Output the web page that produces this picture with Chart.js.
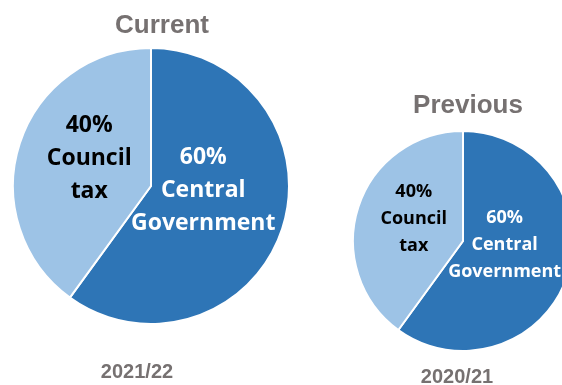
<!DOCTYPE html>
<html>
<head>
<meta charset="utf-8">
<script src="https://cdn.jsdelivr.net/npm/chart.js"></script>
<style>
    html, body { margin: 0; padding: 0; background: #fff; overflow: hidden; }
    body { width: 562px; height: 385px; position: relative; }
    canvas { position: absolute; top: 0; }
    #currentChart { left: 0; }
    #previousChart { left: 340px; }
</style>
</head>
<body>
<canvas id="currentChart" width="302" height="385"></canvas>
<canvas id="previousChart" width="246" height="385"></canvas>
<script>
    const categories = ['Central Government', 'Council tax'];
    const currentShares = [60, 40];
    const previousShares = [60, 40];
    const panelTitles = ['Current', 'Previous'];
    const periods = ['2021/22', '2020/21'];

    const sliceColours = ['#2E75B6', '#9DC3E6'];
    const labelColours = ['#ffffff', '#000000'];
    // where the label sits inside each slice: share of radius, turn from mid angle (deg)
    const labelPlacement = [{ frac: 0.38, turn: -13 }, { frac: 0.49, turn: 6 }];

    const panelText = {
        id: 'panelText',
        afterDatasetsDraw(chart, args, opts) {
            const ctx = chart.ctx;
            const meta = chart.getDatasetMeta(0);
            const values = chart.data.datasets[0].data;

            // slice labels
            ctx.save();
            ctx.textAlign = 'center';
            ctx.textBaseline = 'middle';
            ctx.font = 'bold ' + opts.labelSize + 'px "Open Sans"';
            meta.data.forEach(function(arc, i) {
                const p = labelPlacement[i];
                const mid = (arc.startAngle + arc.endAngle) / 2 + p.turn * Math.PI / 180;
                const x = arc.x + Math.cos(mid) * arc.outerRadius * p.frac;
                const y = arc.y + Math.sin(mid) * arc.outerRadius * p.frac;
                const lines = [values[i] + '%'].concat(chart.data.labels[i].split(' '));
                const top = y - (lines.length - 1) * opts.lineGap / 2;
                ctx.fillStyle = labelColours[i];
                lines.forEach(function(line, j) {
                    ctx.fillText(line, x, top + j * opts.lineGap);
                });
            });
            ctx.restore();

            // heading and period
            const cx = (chart.chartArea.left + chart.chartArea.right) / 2;
            ctx.save();
            ctx.textAlign = 'center';
            ctx.textBaseline = 'middle';
            ctx.fillStyle = '#767171';
            ctx.font = 'bold 26px "Liberation Sans", Arial, sans-serif';
            ctx.fillText(opts.title, cx + opts.titleDx, opts.titleY);
            ctx.font = 'bold 20px "Liberation Sans", Arial, sans-serif';
            ctx.fillText(opts.period, cx + opts.periodDx, opts.periodY);
            ctx.restore();
        }
    };

    function makePie(canvasId, shares, padding, text) {
        return new Chart(document.getElementById(canvasId), {
            type: 'pie',
            data: {
                labels: categories,
                datasets: [{
                    data: shares,
                    backgroundColor: sliceColours,
                    borderColor: '#ffffff',
                    borderWidth: 2
                }]
            },
            options: {
                responsive: false,
                animation: false,
                layout: { padding: padding },
                plugins: {
                    legend: { display: false },
                    tooltip: { enabled: false },
                    panelText: text
                }
            },
            plugins: [panelText]
        });
    }

    makePie('currentChart', currentShares,
        { top: 47, bottom: 60, left: 12, right: 12 },
        { title: panelTitles[0], period: periods[0], titleDx: 11, titleY: 26,
          periodDx: -14, periodY: 372, labelSize: 23, lineGap: 33 });

    makePie('previousChart', previousShares,
        { top: 130, bottom: 33, left: 12, right: 12 },
        { title: panelTitles[1], period: periods[1], titleDx: 5, titleY: 106,
          periodDx: -6, periodY: 377, labelSize: 18, lineGap: 27 });
</script>
</body>
</html>
